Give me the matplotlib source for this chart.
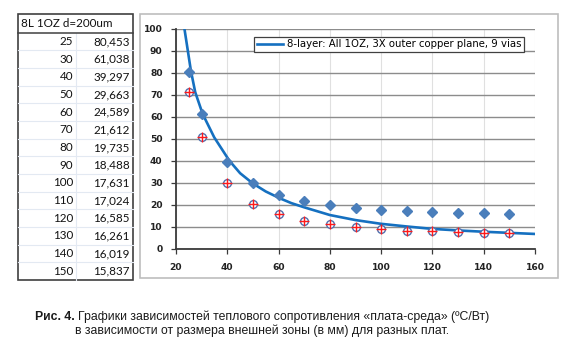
import matplotlib.pyplot as plt
from matplotlib.patches import Rectangle

# размер внешней зоны, мм
size_mm = [25, 30, 40, 50, 60, 70, 80, 90, 100, 110, 120, 130, 140, 150]
# 8L 1OZ d=200um, ºC/Вт
r_8l = [80.453, 61.038, 39.297, 29.663, 24.589, 21.612, 19.735, 18.488,
        17.631, 17.024, 16.585, 16.261, 16.019, 15.837]
# second board
r_other = [71.4, 50.6, 29.7, 20.3, 15.6, 12.7, 11.3, 9.7, 8.8, 8.2, 7.9, 7.4, 7.1, 7.2]

# trend line, 8-layer board
trend_x = [23.2, 24.5, 25.8, 27.5, 30.4, 34.9, 40.8, 45, 49.9, 55, 60.5, 65, 70,
           80, 90, 100, 110, 120, 130, 140, 150, 160]
trend_y = [100.6, 90.8, 80.9, 71.1, 61.2, 50.6, 40.0, 34.3, 29.7, 26.0, 22.9, 20.7, 18.8,
           15.3, 13.0, 11.3, 10.1, 9.0, 8.3, 7.7, 7.2, 6.7]
trend_label = "8-layer: All 1OZ, 3X outer copper plane, 9 vias"

table_title = "8L 1OZ d=200um"
caption_bold = "Рис. 4."
caption_1 = "Графики зависимостей теплового сопротивления «плата-среда» (ºC/Вт)"
caption_2 = "в зависимости от размера внешней зоны (в мм) для разных плат."

W, H = 573, 350
fig = plt.figure(figsize=(W / 100, H / 100), dpi=100)

# background layer in pixel coordinates: table, chart frame, caption
bg = fig.add_axes([0, 0, 1, 1])
bg.set_xlim(0, W)
bg.set_ylim(H, 0)
bg.axis("off")

# table
tl, tr, tt, th, tb = 18.3, 132.7, 13.7, 32.7, 280
row_h = (tb - th) / len(size_mm)
for i in range(1, len(size_mm)):
    y = th + i * row_h
    bg.plot([tl, tr], [y, y], color="#e3e9f2", lw=0.8)
bg.plot([76, 76], [th, tb], color="#e3e9f2", lw=0.8)
bg.plot([tl, tr], [th, th], color="#404040", lw=1.1)
bg.add_patch(Rectangle((tl, tt), tr - tl, tb - tt, fill=False, ec="#404040", lw=1.2))
tfont = dict(family="Lato", fontsize=8.4, color="#111111")
bg.text(20.7, (tt + th) / 2, table_title, ha="left", va="center", **tfont)
for i, (s, r) in enumerate(zip(size_mm, r_8l)):
    y = th + (i + 0.5) * row_h
    bg.text(73, y, str(s), ha="right", va="center", **tfont)
    bg.text(129.5, y, f"{r:.3f}".replace(".", ","), ha="right", va="center", **tfont)

# chart frame
bg.add_patch(Rectangle((140, 14), 418, 264, fill=True, fc="white", ec="#bdbdbd", lw=1.2))

# caption, first line starts with a bold label
cfont = dict(family="Liberation Sans", fontsize=8.8, color="#1a1a1a")
renderer = fig.canvas.get_renderer()
tb_ = bg.text(0, 316.5, caption_bold, ha="left", va="center", weight="bold", **cfont)
tn_ = bg.text(0, 316.5, caption_1, ha="left", va="center", **cfont)
wb = tb_.get_window_extent(renderer).width
wn = tn_.get_window_extent(renderer).width
gap = 3.3
x0 = 262 - (wb + gap + wn) / 2
tb_.set_x(x0)
tn_.set_x(x0 + wb + gap)
bg.text(262, 330.5, caption_2, ha="center", va="center", **cfont)

# chart
ax = fig.add_axes([176 / W, 1 - 248.7 / H, (535 - 176) / W, (248.7 - 28.6) / H])
ax.set_xlim(20, 160)
ax.set_ylim(0, 100)
ax.set_xticks(range(20, 161, 20))
ax.set_yticks(range(0, 101, 10))
ax.yaxis.grid(True, color="#8c8c8c", lw=1.0)
ax.xaxis.grid(True, color="#e0e0e0", lw=0.8)
ax.set_axisbelow(True)
for side in ["top", "right"]:
    ax.spines[side].set_visible(False)
for side in ["left", "bottom"]:
    ax.spines[side].set_color("#3a3a3a")
    ax.spines[side].set_linewidth(1.3)
ax.tick_params(axis="both", direction="out", length=3.6, width=0.9, color="#3a3a3a",
               labelsize=6.6, labelcolor="#222222")
ax.tick_params(axis="y", pad=6)
ax.tick_params(axis="x", pad=6.5)
for lab in ax.get_xticklabels() + ax.get_yticklabels():
    lab.set_fontweight("bold")

ax.plot(trend_x, trend_y, color="#1570c0", lw=1.9, label=trend_label, zorder=3)
ax.plot(size_mm, r_8l, ls="none", marker="D", ms=5.0, color="#4a7ebb", zorder=4)
ax.plot(size_mm, r_other, ls="none", marker="o", ms=5.6, mfc="white", mec="#4f6fae",
        mew=1.0, zorder=4)
ax.plot(size_mm, r_other, ls="none", marker="+", ms=7.5, color="#ff1a1a", mew=1.0, zorder=5)

leg = ax.legend(loc="upper right", bbox_to_anchor=(0.970, 0.963), borderaxespad=0,
                fancybox=False, edgecolor="#404040", framealpha=1, borderpad=0.25,
                handlelength=2.6, handletextpad=0.4, prop=dict(size=7.3))
leg.get_frame().set_linewidth(0.9)

fig.savefig("out.png", dpi=100)
